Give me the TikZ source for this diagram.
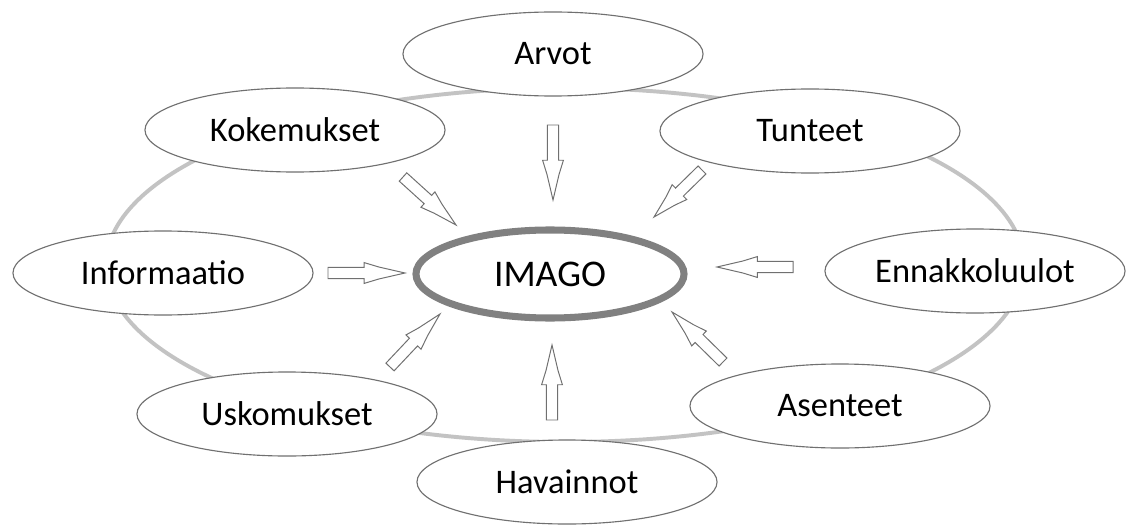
\documentclass[tikz,border=0pt]{standalone}
\usepackage{fontspec}
\setmainfont{Carlito}
\usepackage{tikz}
\usepackage{xcolor}
\usetikzlibrary{shapes.geometric, calc}

\definecolor{ringgray}{HTML}{C3C3C3}
\definecolor{linegray}{HTML}{707070}
\definecolor{imagogray}{HTML}{808080}

\begin{document}
\begin{tikzpicture}[x=0.025cm, y=-0.025cm,
    bubble/.style={ellipse, draw=linegray, line width=0.8pt, fill=white, inner sep=0pt,
        minimum width=7.5cm, minimum height=2.1cm, font=\fontsize{24.5}{28}\selectfont},
    core/.style={ellipse, draw=imagogray, line width=5pt, fill=white, inner sep=0pt,
        minimum width=6.7cm, minimum height=2.2cm, font=\fontsize{26.8}{30}\selectfont},
    fatline/.style={draw=linegray, line width=0.7pt, fill=white, line join=miter}]
    \useasboundingbox (0,0) rectangle (1128,525);

    % Outer ring
    \draw[ringgray, line width=2.8pt] (565,265) ellipse [x radius=459, y radius=177];

    % Centre
    \node[core] (imago) at (550,274) {IMAGO};

    % Surrounding bubbles
    \node[bubble] (arvot) at (553,54) {Arvot};
    \node[bubble] (kokemukset) at (295,130) {Kokemukset};
    \node[bubble] (tunteet) at (810,131) {Tunteet};
    \node[bubble] (informaatio) at (163,273) {Informaatio};
    \node[bubble] (ennakko) at (975,271) {Ennakkoluulot};
    \node[bubble] (uskomukset) at (287,414) {Uskomukset};
    \node[bubble] (asenteet) at (840,406) {Asenteet};
    \node[bubble] (havainnot) at (567,482) {Havainnot};

    % Arrow ends (tail, tip)
    \coordinate (arvS) at (553,125);  \coordinate (arvE) at (553,200);
    \coordinate (kokS) at (403,177);  \coordinate (kokE) at (456,225);
    \coordinate (tunS) at (702,170);  \coordinate (tunE) at (654,217);
    \coordinate (infS) at (328,273);  \coordinate (infE) at (405,273);
    \coordinate (ennS) at (793,267);  \coordinate (ennE) at (717,267);
    \coordinate (aseS) at (723,362);  \coordinate (aseE) at (672,312);
    \coordinate (havS) at (552,420);  \coordinate (havE) at (552,345);
    \coordinate (uskS) at (390,367);  \coordinate (uskE) at (440,314);

    % Hollow block arrows towards IMAGO
    \foreach \s/\e in {arvS/arvE, kokS/kokE, tunS/tunE, infS/infE,
                       ennS/ennE, aseS/aseE, havS/havE, uskS/uskE}
        \draw[fatline] ($(\s)!0.14cm!90:(\e)$)
            -- ($(\s)!0.47!(\e)!0.14cm!90:(\e)$)
            -- ($(\s)!0.47!(\e)!0.26cm!90:(\e)$)
            -- ($(\s)!0.66!(\e)!0.15cm!90:(\e)$)
            -- (\e)
            -- ($(\s)!0.66!(\e)!0.15cm!-90:(\e)$)
            -- ($(\s)!0.47!(\e)!0.26cm!-90:(\e)$)
            -- ($(\s)!0.47!(\e)!0.14cm!-90:(\e)$)
            -- ($(\s)!0.14cm!-90:(\e)$) -- cycle;
\end{tikzpicture}
\end{document}
